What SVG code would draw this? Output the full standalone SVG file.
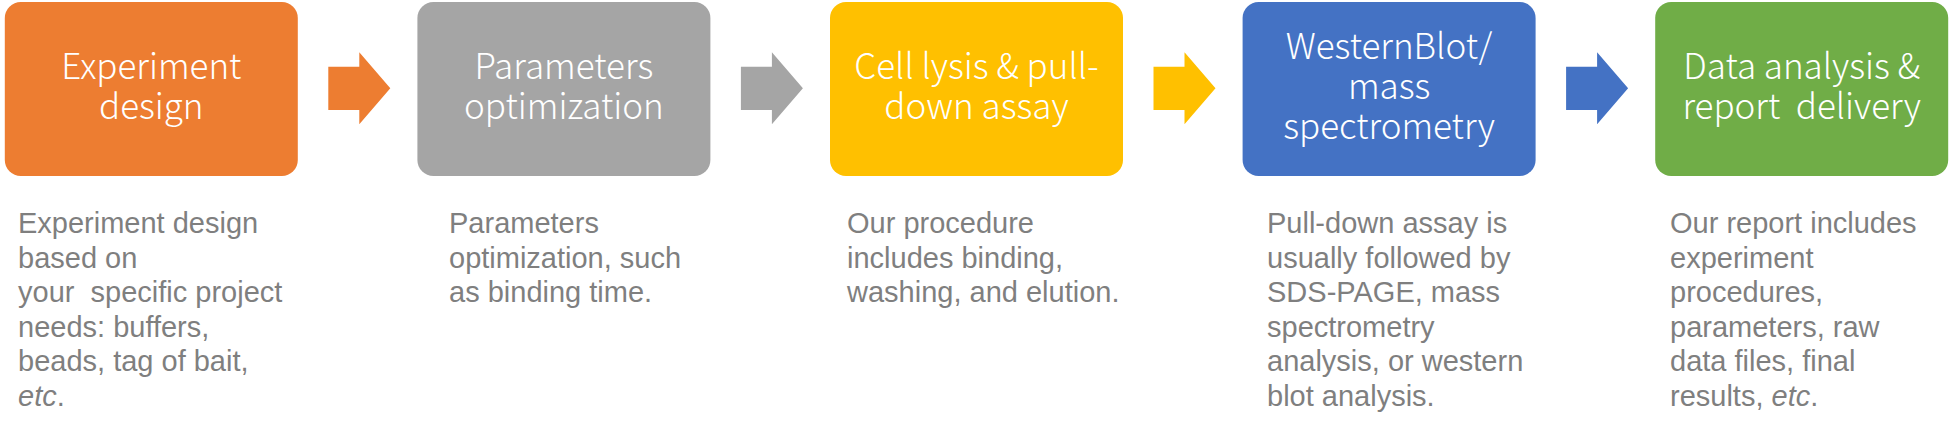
<svg xmlns="http://www.w3.org/2000/svg" width="1957" height="431" viewBox="0 0 1957 431">
<style>
.box{stroke:none}
.bt{font-family:"Noto Sans CJK SC","Noto Sans",sans-serif;font-weight:300;font-size:35px;fill:#ffffff;text-anchor:middle;white-space:pre}
.dt{font-family:"Liberation Sans",Arial,sans-serif;font-size:29px;fill:#7f7f7f;white-space:pre}
.it{font-style:italic}
</style>
<rect width="1957" height="431" fill="#ffffff"/>
<g id="connectors">
<polygon fill="#ed7d31" points="328.3,66.7 359.3,66.7 359.3,52.3 390.3,88.3 359.3,124.3 359.3,110 328.3,110"/>
<polygon fill="#a5a5a5" points="740.9,66.7 771.9,66.7 771.9,52.3 802.9,88.3 771.9,124.3 771.9,110 740.9,110"/>
<polygon fill="#ffc000" points="1153.5,66.7 1184.5,66.7 1184.5,52.3 1215.5,88.3 1184.5,124.3 1184.5,110 1153.5,110"/>
<polygon fill="#4472c4" points="1566.1,66.7 1597.1,66.7 1597.1,52.3 1628.1,88.3 1597.1,124.3 1597.1,110 1566.1,110"/>
</g>
<g id="node1">
<rect class="box" x="4.8" y="2" width="293" height="174" rx="16" fill="#ed7d31"/>
<text class="bt" x="151.3" y="79">Experiment<tspan x="151.3" y="119">design</tspan></text>
<text class="dt" x="18" y="233">Experiment design<tspan x="18" y="267.5">based on</tspan><tspan x="18" y="302">your  specific project</tspan><tspan x="18" y="336.5">needs: buffers,</tspan><tspan x="18" y="371">beads, tag of bait,</tspan><tspan x="18" y="405.5"><tspan class="it">etc</tspan>.</tspan></text>
</g>
<g id="node2">
<rect class="box" x="417.4" y="2" width="293" height="174" rx="16" fill="#a5a5a5"/>
<text class="bt" x="563.9" y="79">Parameters<tspan x="563.9" y="119">optimization</tspan></text>
<text class="dt" x="449" y="233">Parameters<tspan x="449" y="267.5">optimization, such</tspan><tspan x="449" y="302">as binding time.</tspan></text>
</g>
<g id="node3">
<rect class="box" x="830" y="2" width="293" height="174" rx="16" fill="#ffc000"/>
<text class="bt" x="976.5" y="79">Cell lysis &amp; pull-<tspan x="976.5" y="119">down assay</tspan></text>
<text class="dt" x="847" y="233">Our procedure<tspan x="847" y="267.5">includes binding,</tspan><tspan x="847" y="302">washing, and elution.</tspan></text>
</g>
<g id="node4">
<rect class="box" x="1242.6" y="2" width="293" height="174" rx="16" fill="#4472c4"/>
<text class="bt" x="1389.1" y="59">WesternBlot/<tspan x="1389.1" y="99">mass</tspan><tspan x="1389.1" y="139">spectrometry</tspan></text>
<text class="dt" x="1267" y="233">Pull-down assay is<tspan x="1267" y="267.5">usually followed by</tspan><tspan x="1267" y="302">SDS-PAGE, mass</tspan><tspan x="1267" y="336.5">spectrometry</tspan><tspan x="1267" y="371">analysis, or western</tspan><tspan x="1267" y="405.5">blot analysis.</tspan></text>
</g>
<g id="node5">
<rect class="box" x="1655.2" y="2" width="293" height="174" rx="16" fill="#70ad47"/>
<text class="bt" x="1801.7" y="79">Data analysis &amp;<tspan x="1801.7" y="119">report  delivery</tspan></text>
<text class="dt" x="1670" y="233">Our report includes<tspan x="1670" y="267.5">experiment</tspan><tspan x="1670" y="302">procedures,</tspan><tspan x="1670" y="336.5">parameters, raw</tspan><tspan x="1670" y="371">data files, final</tspan><tspan x="1670" y="405.5">results, <tspan class="it">etc</tspan>.</tspan></text>
</g>
</svg>
